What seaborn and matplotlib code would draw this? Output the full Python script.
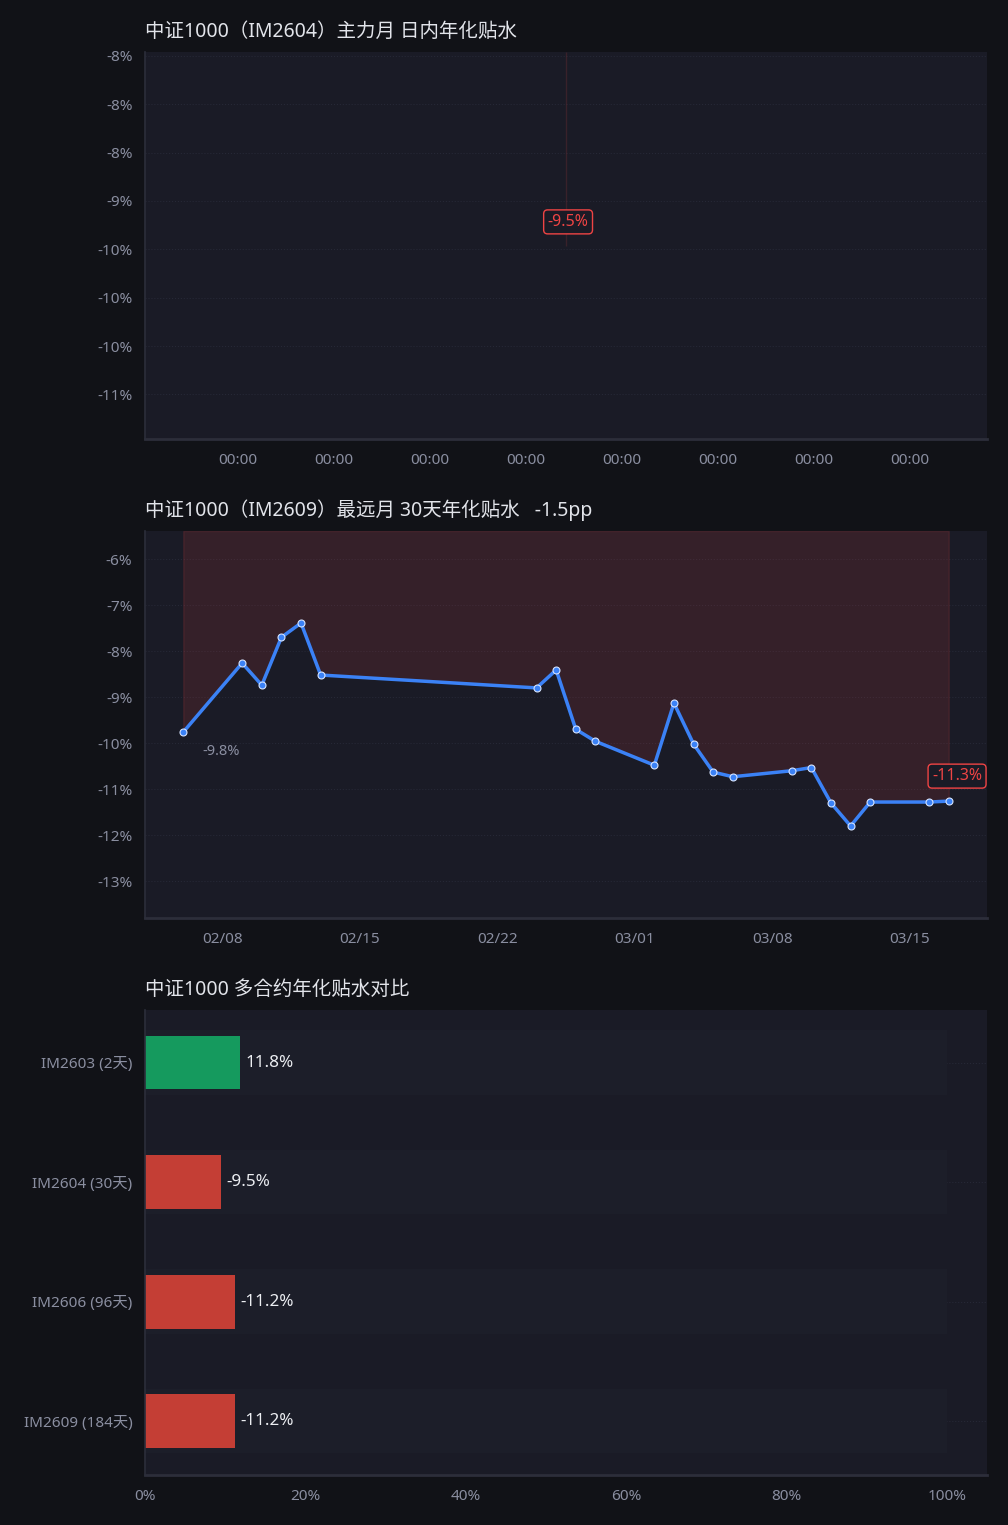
import numpy as np
import pandas as pd
import matplotlib
matplotlib.use("Agg")
import matplotlib.pyplot as plt
import matplotlib.dates as mdates
from matplotlib.ticker import MultipleLocator, FuncFormatter
import seaborn as sns

# intraday basis of the main contract (only one print so far)
intraday_time = pd.to_datetime(["2026-03-17 10:00"])
intraday_basis = [-9.46]

# 30 trading days of annualised basis, farthest contract
hist_dates = pd.to_datetime([
    "2026-02-06", "2026-02-09", "2026-02-10", "2026-02-11", "2026-02-12",
    "2026-02-13", "2026-02-24", "2026-02-25", "2026-02-26", "2026-02-27",
    "2026-03-02", "2026-03-03", "2026-03-04", "2026-03-05", "2026-03-06",
    "2026-03-09", "2026-03-10", "2026-03-11", "2026-03-12", "2026-03-13",
    "2026-03-16", "2026-03-17",
])
hist_basis = [
    -9.76, -8.26, -8.74, -7.70, -7.39,
    -8.52, -8.80, -8.41, -9.70, -9.96,
    -10.48, -9.13, -10.02, -10.63, -10.73,
    -10.60, -10.53, -11.30, -11.80, -11.28,
    -11.28, -11.26,
]

# all listed contracts
contracts = ["IM2603 (2天)", "IM2604 (30天)", "IM2606 (96天)", "IM2609 (184天)"]
contract_basis = [11.8, -9.5, -11.22, -11.17]

FIG_BG = "#111217"
AX_BG = "#1a1b26"
SPINE = "#2c2e3a"
TICK = "#8a8ea0"
TITLE = "#e2e4ea"
BLUE = "#3b82f6"
RED = "#ef4444"
GREEN = "#159a5e"
BAR_RED = "#c43e35"

sns.set_theme(style="dark", rc={
    "figure.facecolor": FIG_BG,
    "axes.facecolor": AX_BG,
    "axes.edgecolor": SPINE,
    "axes.grid": True,
    "grid.color": "#262836",
    "grid.linestyle": ":",
    "grid.linewidth": 0.8,
    "xtick.color": TICK,
    "ytick.color": TICK,
    "xtick.bottom": False,
    "ytick.left": False,
    "xtick.major.size": 0,
    "ytick.major.size": 0,
})
plt.rcParams["font.family"] = ["Noto Sans", "Noto Sans CJK SC", "DejaVu Sans"]
plt.rcParams["axes.unicode_minus"] = False
TITLE_FONT = ["Noto Sans", "Noto Sans CJK KR", "Noto Sans CJK SC"]

fig = plt.figure(figsize=(10.08, 15.25), dpi=100)
L, W = 145 / 1008, 842 / 1008
ax1 = fig.add_axes([L, 1 - 439 / 1525, W, 387 / 1525])
ax2 = fig.add_axes([L, 1 - 918 / 1525, W, 387 / 1525])
ax3 = fig.add_axes([L, 1 - 1475 / 1525, W, 465 / 1525])

pct0 = FuncFormatter(lambda v, p: f"{v:.0f}%")


def style_axes(ax, title):
    for s in ["top", "right"]:
        ax.spines[s].set_visible(False)
    ax.spines["left"].set_color(SPINE)
    ax.spines["left"].set_linewidth(1.2)
    ax.spines["bottom"].set_color(SPINE)
    ax.spines["bottom"].set_linewidth(2)
    ax.grid(axis="x", visible=False)
    ax.grid(axis="y", visible=True)
    ax.tick_params(axis="x", labelsize=11, pad=10, length=0)
    ax.tick_params(axis="y", labelsize=11, pad=9, length=0)
    ax.set_xlabel("")
    ax.set_ylabel("")
    ax.set_title(title, loc="left", color=TITLE, fontsize=14, pad=11, family=TITLE_FONT)


# --- panel 1: intraday
v = intraday_basis[-1]
top1 = v + 2
sns.lineplot(x=intraday_time, y=intraday_basis, ax=ax1, color=BLUE, linewidth=2.5)
ax1.fill_between(intraday_time, intraday_basis, top1, color=RED, alpha=0.15, linewidth=1)
ax1.set_ylim(v - 2, top1)
ax1.set_xlim(intraday_time[0] - pd.Timedelta(days=4.385), intraday_time[0] + pd.Timedelta(days=4.385))
ax1.xaxis.set_major_locator(mdates.DayLocator())
ax1.xaxis.set_major_formatter(mdates.DateFormatter("%H:%M"))
ax1.yaxis.set_major_locator(MultipleLocator(0.5))
ax1.yaxis.set_major_formatter(pct0)
ax1.annotate(f"{v:.1f}%", xy=(intraday_time[0], v), xytext=(1.5, 17), textcoords="offset points",
             ha="center", va="center", color=RED, fontsize=11.5,
             bbox=dict(boxstyle="round,pad=0.25", fc=AX_BG, ec=RED, lw=1))
style_axes(ax1, "中证1000（IM2604）主力月 日内年化贴水")

# --- panel 2: 30-day history
lo, hi = min(hist_basis), max(hist_basis)
top2 = hi + 2
ax2.fill_between(hist_dates, hist_basis, top2, color=RED, alpha=0.13, linewidth=1)
sns.lineplot(x=hist_dates, y=hist_basis, ax=ax2, color=BLUE, linewidth=2.5,
             marker="o", markersize=5, markeredgecolor="#d6e4ff", markeredgewidth=0.8)
ax2.set_ylim(lo - 2, top2)
ax2.yaxis.set_major_locator(MultipleLocator(1))
ax2.yaxis.set_major_formatter(pct0)
ax2.xaxis.set_major_locator(mdates.WeekdayLocator(byweekday=mdates.SU))
ax2.xaxis.set_major_formatter(mdates.DateFormatter("%m/%d"))
ax2.annotate(f"{hist_basis[0]:.1f}%", xy=(hist_dates[0], hist_basis[0]), xytext=(27, -14),
             textcoords="offset points", ha="center", va="center", color=TICK, fontsize=10.5)
ax2.annotate(f"{hist_basis[-1]:.1f}%", xy=(hist_dates[-1], hist_basis[-1]), xytext=(6, 18),
             textcoords="offset points", ha="center", va="center", color=RED, fontsize=11.5,
             bbox=dict(boxstyle="round,pad=0.25", fc=AX_BG, ec=RED, lw=1))
change = hist_basis[-1] - hist_basis[0]
style_axes(ax2, f"中证1000（IM2609）最远月 30天年化贴水   {change:.1f}pp")

# --- panel 3: contract comparison
bar_len = [abs(b) for b in contract_basis]
bar_colors = [GREEN if b > 0 else BAR_RED for b in contract_basis]
sns.barplot(x=bar_len, y=contracts, hue=contracts, palette=bar_colors, legend=False,
            ax=ax3, width=0.45, saturation=1, orient="h", zorder=2, linewidth=0)
ax3.barh(np.arange(len(contracts)), 100, height=0.54, color="#1c1e29", linewidth=0, zorder=0.6)
for i, b in enumerate(contract_basis):
    ax3.annotate(f"{b:.1f}%", xy=(bar_len[i], i), xytext=(4, 0), textcoords="offset points",
                 ha="left", va="center", color="#eceef2", fontsize=12.3)
ax3.set_xlim(0, 105)
ax3.set_ylim(len(contracts) - 0.55, -0.44)
ax3.xaxis.set_major_locator(MultipleLocator(20))
ax3.xaxis.set_major_formatter(pct0)
style_axes(ax3, "中证1000 多合约年化贴水对比")
ax3.set_axisbelow(True)

fig.savefig("out.png", dpi=100, facecolor=FIG_BG)
